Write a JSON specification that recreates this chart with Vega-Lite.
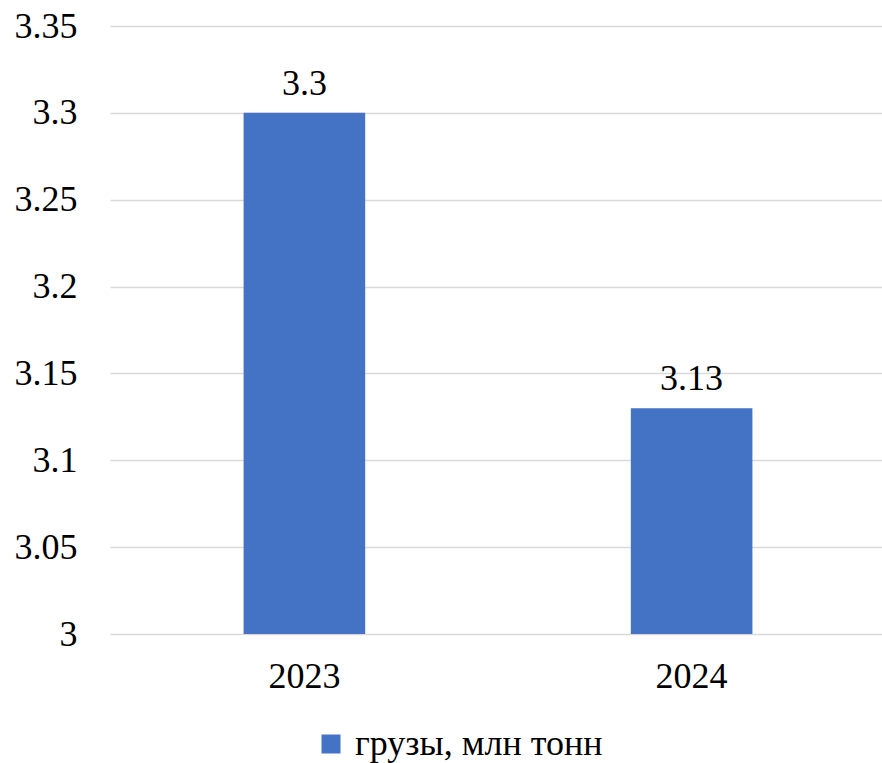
{
  "$schema": "https://vega.github.io/schema/vega-lite/v6.json",
  "width": 776,
  "height": 608,
  "autosize": {"type": "none"},
  "padding": {"left": 110, "top": 26, "right": 0, "bottom": 129},
  "background": "white",
  "data": {"values": [
    {"year": "2023", "value": 3.3, "series": "грузы, млн тонн"},
    {"year": "2024", "value": 3.13, "series": "грузы, млн тонн"}
  ]},
  "config": {
    "view": {"stroke": null},
    "font": "Liberation Serif",
    "axis": {"labelFont": "Liberation Serif", "labelFontSize": 36, "labelColor": "#000000", "gridColor": "#d9d9d9", "gridWidth": 1.5, "ticks": false, "domain": false, "title": null},
    "legend": {"labelFont": "Liberation Serif", "labelFontSize": 36, "labelColor": "#000000", "labelLimit": 500}
  },
  "encoding": {
    "x": {"field": "year", "type": "nominal", "scale": {"paddingInner": 0.686, "paddingOuter": 0.345},
      "axis": {"labelAngle": 0, "grid": false, "labelPadding": 25}},
    "y": {"field": "value", "type": "quantitative", "scale": {"domain": [3, 3.35], "zero": false, "nice": false},
      "axis": {"values": [3, 3.05, 3.1, 3.15, 3.2, 3.25, 3.3, 3.35], "labelPadding": 33, "labelExpr": "datum.value == 3 ? '3' : format(datum.value, '.2~f')"}}
  },
  "layer": [
    {"mark": {"type": "bar", "clip": true},
      "encoding": {"color": {"field": "series", "type": "nominal", "scale": {"range": ["#4472c4"]},
        "legend": {"title": null, "orient": "none", "legendX": 203, "legendY": 700, "symbolType": "square", "symbolSize": 361, "symbolStrokeWidth": 0, "labelOffset": 6}}}},
    {"mark": {"type": "text", "baseline": "alphabetic", "dy": -18, "fontSize": 36, "font": "Liberation Serif", "color": "#000000"},
      "encoding": {"text": {"field": "value", "type": "quantitative"}}}
  ]
}
